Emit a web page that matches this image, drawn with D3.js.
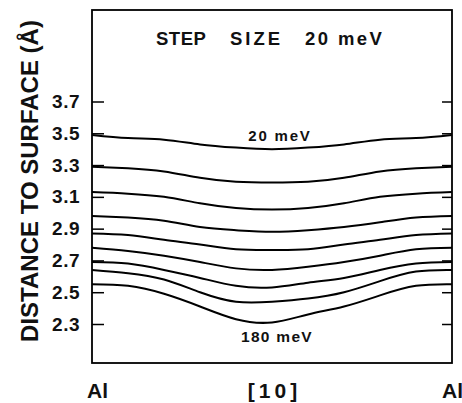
<!DOCTYPE html>
<html lang="en">
<head>
    <meta charset="UTF-8">
    <title>Distance to surface contours</title>
    <style>
        body {
            margin: 0;
            background: #fff;
        }

        svg text {
            font-family: "Liberation Sans", Arial, sans-serif;
            font-weight: bold;
            fill: #111;
        }

        .curve {
            fill: none;
            stroke: #000;
            stroke-width: 2;
        }
    </style>
</head>
<body>
    <div id="chart"></div>
    <script src="https://d3js.org/d3.v7.min.js"></script>
    <script>
        // position along the Al - [10] - Al line (fraction of the cell)
        const positions = [0, 0.1, 0.2, 0.3, 0.4, 0.5, 0.6, 0.7, 0.8, 0.9, 1.0];
        const energies = [20, 40, 60, 80, 100, 120, 140, 160, 180];

        // distance to surface (Å) for each energy, read along the positions above
        const d20 = [3.49, 3.47, 3.46, 3.43, 3.41, 3.40, 3.41, 3.43, 3.46, 3.47, 3.49];
        const d40 = [3.29, 3.28, 3.26, 3.22, 3.195, 3.19, 3.195, 3.22, 3.26, 3.28, 3.29];
        const d60 = [3.13, 3.12, 3.10, 3.06, 3.03, 3.02, 3.03, 3.06, 3.10, 3.12, 3.13];
        const d80 = [2.98, 2.97, 2.95, 2.91, 2.89, 2.88, 2.89, 2.91, 2.94, 2.97, 2.98];
        const d100 = [2.87, 2.86, 2.83, 2.80, 2.77, 2.765, 2.77, 2.80, 2.83, 2.86, 2.87];
        const d120 = [2.78, 2.76, 2.73, 2.69, 2.65, 2.64, 2.66, 2.69, 2.73, 2.77, 2.78];
        const d140 = [2.69, 2.68, 2.64, 2.59, 2.54, 2.53, 2.56, 2.59, 2.64, 2.68, 2.69];
        const d160 = [2.64, 2.62, 2.58, 2.50, 2.44, 2.44, 2.46, 2.50, 2.57, 2.63, 2.64];
        const d180 = [2.55, 2.54, 2.49, 2.41, 2.33, 2.31, 2.36, 2.41, 2.48, 2.54, 2.55];
        const series = [d20, d40, d60, d80, d100, d120, d140, d160, d180];

        const yTicks = [2.3, 2.5, 2.7, 2.9, 3.1, 3.3, 3.5, 3.7];
        const xTicks = [0, 0.5, 1];
        const xTickLabels = ["Al", "[10]", "Al"];

        const width = 462;
        const height = 403;
        const plot = { left: 92, right: 452, top: 10, bottom: 363 };

        const x = d3.scaleLinear()
            .domain([0, 1])
            .range([plot.left, plot.right]);

        const y = d3.scaleLinear()
            .domain([2.3, 3.7])
            .range([324, 101.5]);

        const svg = d3.select("#chart")
            .append("svg")
            .attr("width", width)
            .attr("height", height);

        svg.append("rect")
            .attr("x", plot.left)
            .attr("y", plot.top)
            .attr("width", plot.right - plot.left)
            .attr("height", plot.bottom - plot.top)
            .attr("fill", "none")
            .attr("stroke", "#000")
            .attr("stroke-width", 1.8);

        // left axis, ticks pointing inward
        const leftAxis = svg.append("g")
            .attr("transform", `translate(${plot.left},0)`)
            .call(d3.axisLeft(y)
                .tickValues(yTicks)
                .tickFormat(d3.format(".1f"))
                .tickSizeInner(-12)
                .tickSizeOuter(0)
                .tickPadding(12));
        leftAxis.select(".domain").remove();
        leftAxis.selectAll("line").attr("stroke-width", 1.5);
        leftAxis.selectAll("text")
            .style("font-size", "19px")
            .style("letter-spacing", "0.5px")
            .attr("font-family", null)
            .attr("font-size", null);

        // right axis, ticks only
        const rightAxis = svg.append("g")
            .attr("transform", `translate(${plot.right},0)`)
            .call(d3.axisRight(y)
                .tickValues(yTicks)
                .tickFormat("")
                .tickSizeInner(-10)
                .tickSizeOuter(0));
        rightAxis.select(".domain").remove();
        rightAxis.selectAll("line").attr("stroke-width", 1.5);

        // bottom labels
        const bottomAxis = svg.append("g")
            .attr("transform", `translate(0,${plot.bottom})`)
            .call(d3.axisBottom(x)
                .tickValues(xTicks)
                .tickFormat((d, i) => xTickLabels[i])
                .tickSize(0)
                .tickPadding(20));
        bottomAxis.select(".domain").remove();
        bottomAxis.selectAll("text")
            .attr("font-family", null)
            .attr("font-size", null)
            .style("font-size", "21px")
            .style("letter-spacing", (d, i) => i === 1 ? "4px" : "0px")
            .attr("dx", (d, i) => i === 0 ? 5 : (i === 1 ? 2 : 0));

        const line = d3.line()
            .x((d, i) => x(positions[i]))
            .y(d => y(d))
            .curve(d3.curveNatural);

        svg.selectAll(".curve")
            .data(series)
            .enter()
            .append("path")
            .attr("class", "curve")
            .attr("d", line);

        // labels on first and last contour
        const first = series[0];
        const last = series[series.length - 1];
        const firstMin = d3.minIndex(first);
        const lastMin = d3.minIndex(last);

        svg.append("text")
            .attr("x", x(positions[firstMin]) + 8)
            .attr("y", y(first[firstMin]) - 8.5)
            .attr("text-anchor", "middle")
            .style("font-size", "15px")
            .style("letter-spacing", "1.8px")
            .text(energies[0] + " meV");

        svg.append("text")
            .attr("x", x(positions[lastMin]) + 5)
            .attr("y", y(last[lastMin]) + 19.5)
            .attr("text-anchor", "middle")
            .style("font-size", "15.5px")
            .style("letter-spacing", "1.3px")
            .text(energies[energies.length - 1] + " meV");

        // header text
        svg.append("text")
            .attr("x", 156)
            .attr("y", 45)
            .style("font-size", "18.5px")
            .style("letter-spacing", "0.5px")
            .text("STEP");
        svg.append("text")
            .attr("x", 230)
            .attr("y", 45)
            .style("font-size", "18.5px")
            .style("letter-spacing", "3px")
            .text("SIZE");
        svg.append("text")
            .attr("x", 305)
            .attr("y", 45)
            .style("font-size", "18.5px")
            .style("letter-spacing", "2.4px")
            .text((energies[1] - energies[0]) + " meV");

        // y axis title
        svg.append("text")
            .attr("transform", "translate(38,181) rotate(-90)")
            .attr("text-anchor", "middle")
            .style("font-size", "24px")
            .text("DISTANCE TO SURFACE (Å)");
    </script>
</body>
</html>
